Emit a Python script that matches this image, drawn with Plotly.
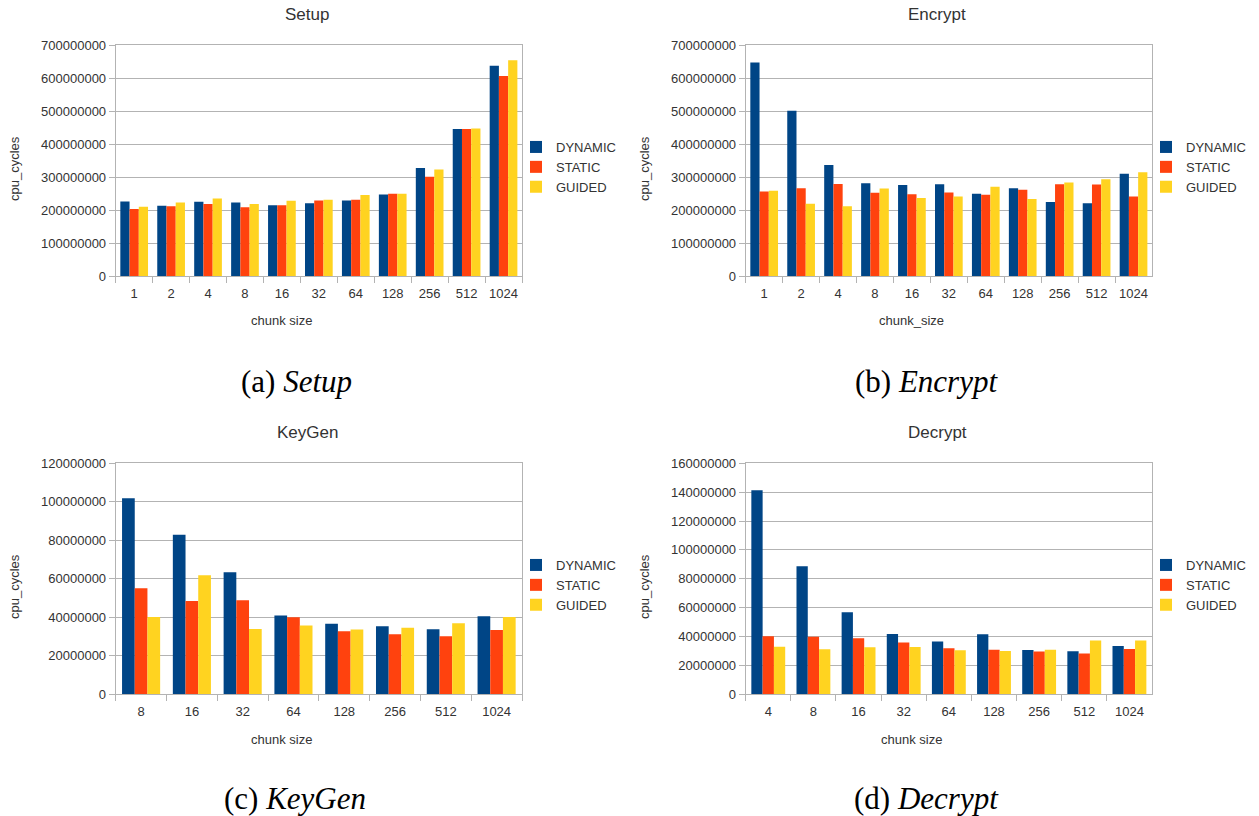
import plotly.graph_objects as go

# ---- data: CPU cycles per scheduling policy and chunk size ----
series_names = ["DYNAMIC", "STATIC", "GUIDED"]
series_colors = ["#004586", "#ff420e", "#ffd320"]

setup_chunks = ["1", "2", "4", "8", "16", "32", "64", "128", "256", "512", "1024"]
setup_dynamic = [227e6, 214e6, 226e6, 224e6, 215e6, 221e6, 230e6, 248e6, 328e6, 446e6, 638e6]
setup_static = [204e6, 212e6, 219e6, 209e6, 215e6, 230e6, 232e6, 250e6, 302e6, 446e6, 607e6]
setup_guided = [211e6, 224e6, 236e6, 219e6, 229e6, 232e6, 246e6, 250e6, 324e6, 448e6, 655e6]

encrypt_chunks = ["1", "2", "4", "8", "16", "32", "64", "128", "256", "512", "1024"]
encrypt_dynamic = [648e6, 502e6, 337e6, 282e6, 277e6, 279e6, 250e6, 267e6, 225e6, 221e6, 311e6]
encrypt_static = [257e6, 267e6, 280e6, 253e6, 249e6, 254e6, 247e6, 262e6, 279e6, 278e6, 242e6]
encrypt_guided = [259e6, 220e6, 212e6, 266e6, 237e6, 242e6, 271e6, 234e6, 284e6, 294e6, 315e6]

keygen_chunks = ["8", "16", "32", "64", "128", "256", "512", "1024"]
keygen_dynamic = [101.8e6, 82.9e6, 63.4e6, 41.0e6, 36.7e6, 35.3e6, 33.8e6, 40.5e6]
keygen_static = [55.1e6, 48.5e6, 48.8e6, 40.0e6, 32.7e6, 31.2e6, 30.1e6, 33.4e6]
keygen_guided = [40.2e6, 61.8e6, 33.9e6, 35.8e6, 33.6e6, 34.6e6, 36.9e6, 40.2e6]

decrypt_chunks = ["4", "8", "16", "32", "64", "128", "256", "512", "1024"]
decrypt_dynamic = [141.3e6, 88.7e6, 56.8e6, 41.8e6, 36.5e6, 41.6e6, 30.7e6, 29.8e6, 33.5e6]
decrypt_static = [40.2e6, 39.9e6, 38.8e6, 35.8e6, 31.9e6, 30.9e6, 29.6e6, 28.2e6, 31.4e6]
decrypt_guided = [33.0e6, 31.2e6, 32.6e6, 32.8e6, 30.5e6, 30.0e6, 30.9e6, 37.2e6, 37.2e6]

# ---- page geometry (pixels) ----
W, H = 1259, 816


def fx(px):
    return px / W


def fy(py):
    return 1 - py / H


panels = [
    dict(title="Setup", caption="(a) <i>Setup</i>", xtitle="chunk size",
         chunks=setup_chunks, values=[setup_dynamic, setup_static, setup_guided],
         ymax=700e6, dtick=100e6, ox=0, oy=0),
    dict(title="Encrypt", caption="(b) <i>Encrypt</i>", xtitle="chunk_size",
         chunks=encrypt_chunks, values=[encrypt_dynamic, encrypt_static, encrypt_guided],
         ymax=700e6, dtick=100e6, ox=630, oy=0),
    dict(title="KeyGen", caption="(c) <i>KeyGen</i>", xtitle="chunk size",
         chunks=keygen_chunks, values=[keygen_dynamic, keygen_static, keygen_guided],
         ymax=120e6, dtick=20e6, ox=0, oy=418),
    dict(title="Decrypt", caption="(d) <i>Decrypt</i>", xtitle="chunk size",
         chunks=decrypt_chunks, values=[decrypt_dynamic, decrypt_static, decrypt_guided],
         ymax=160e6, dtick=20e6, ox=630, oy=418),
]

caption_pos = [(296, 381), (926, 381), (295, 798), (926, 798)]

fig = go.Figure()
layout = dict(
    width=W, height=H, autosize=False,
    margin=dict(l=0, r=0, t=0, b=0),
    paper_bgcolor="white", plot_bgcolor="white",
    barmode="group", bargap=0.25, bargroupgap=0,
    font=dict(family="Liberation Sans, Arial, sans-serif", size=13, color="#333333"),
    showlegend=True,
)
annotations = []
grey = "#b3b3b3"

for i, p in enumerate(panels):
    n = i + 1
    xa = "x" if n == 1 else f"x{n}"
    ya = "y" if n == 1 else f"y{n}"
    leg = "legend" if n == 1 else f"legend{n}"
    ox, oy = p["ox"], p["oy"]
    left, right = 115.7 + ox, 522 + ox
    top, bottom = 45.3 + oy, 276.3 + oy

    for name, color, vals in zip(series_names, series_colors, p["values"]):
        fig.add_trace(go.Bar(
            x=p["chunks"], y=vals, name=name, marker_color=color,
            marker_line_width=0, xaxis=xa, yaxis=ya, legend=leg,
        ))

    layout["xaxis" if n == 1 else f"xaxis{n}"] = dict(
        domain=[fx(left), fx(right)], anchor=ya, type="category",
        showgrid=False, showline=True, linecolor=grey, linewidth=1, mirror=True,
        ticks="outside", tickson="boundaries", ticklen=6, tickcolor=grey,
        tickangle=0, automargin=False, ticklabelstandoff=5,
        tickfont=dict(size=13, color="#333333"), fixedrange=True,
    )
    layout["yaxis" if n == 1 else f"yaxis{n}"] = dict(
        domain=[fy(bottom), fy(top)], anchor=xa, range=[0, p["ymax"]],
        dtick=p["dtick"], tick0=0, tickformat="d",
        showgrid=True, gridcolor=grey, gridwidth=1,
        showline=True, linecolor=grey, linewidth=1, mirror=True,
        ticks="outside", ticklen=6, tickcolor=grey, zeroline=False,
        automargin=False,
        tickfont=dict(size=13, color="#333333"), fixedrange=True,
    )
    layout[leg] = dict(
        x=fx(516 + ox), y=fy(167 + oy), xanchor="left", yanchor="middle",
        bgcolor="rgba(0,0,0,0)", borderwidth=0, itemwidth=30,
        font=dict(size=13, color="#333333"), tracegroupgap=0,
    )

    annotations.append(dict(
        text=p["title"], x=fx(307 + ox), y=fy(14 + oy), xref="paper", yref="paper",
        showarrow=False, xanchor="center", yanchor="middle",
        font=dict(size=17, color="#333333"),
    ))
    annotations.append(dict(
        text=p["xtitle"], x=fx(281 + ox), y=fy(321 + oy), xref="paper", yref="paper",
        showarrow=False, xanchor="center", yanchor="middle",
        font=dict(size=13, color="#333333"),
    ))
    annotations.append(dict(
        text="cpu_cycles", x=fx(14 + ox), y=fy(169 + oy), xref="paper", yref="paper",
        showarrow=False, xanchor="center", yanchor="middle", textangle=-90,
        font=dict(size=13, color="#333333"),
    ))
    cx, cy = caption_pos[i]
    annotations.append(dict(
        text=p["caption"], x=fx(cx), y=fy(cy), xref="paper", yref="paper",
        showarrow=False, xanchor="center", yanchor="middle",
        font=dict(family="Liberation Serif, Times New Roman, serif", size=31, color="#000000"),
    ))

layout["annotations"] = annotations
fig.update_layout(**layout)
fig.write_html("out.html")
